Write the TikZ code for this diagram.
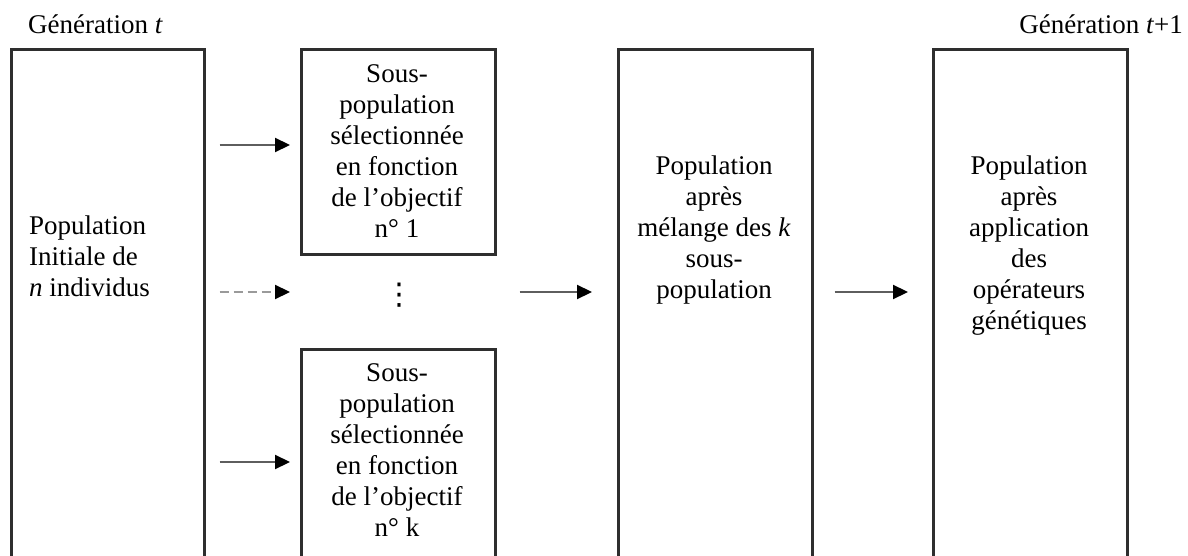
\documentclass[tikz,border=0pt]{standalone}
\usepackage{fontspec}
\setmainfont{Liberation Serif}
\newfontfamily\symbolfont{DejaVu Sans}
\usetikzlibrary{arrows.meta}
\definecolor{boxgray}{HTML}{2E2E2E}
\definecolor{shaftgray}{HTML}{5E5E5E}
\definecolor{dashgray}{HTML}{9A9A9A}
\begin{document}
\begin{tikzpicture}[x=1pt,y=-1pt,
  box/.style={draw=boxgray, line width=2.6pt, minimum width=194pt, inner sep=0pt, anchor=north west},
  lbl/.style={align=center, inner sep=0pt, font=\fontsize{27}{31}\selectfont},
  head/.style={inner sep=0pt, font=\fontsize{27}{31}\selectfont},
  arr/.style={draw=shaftgray, line width=2.2pt, -{Triangle[length=15pt,width=14pt,color=black]}},
  dasharr/.style={arr, draw=dashgray, dash pattern=on 9pt off 5pt}]
\useasboundingbox (0,0) rectangle (1188,556);
\clip (0,0) rectangle (1188,556);

% generation labels
\node[head, anchor=base west] (gen) at (28,34) {Génération \textit{t}};
\node[head, anchor=base east] (gennext) at (1183,34) {Génération \textit{t}+1};

% boxes (the tall ones run past the lower edge)
\node[box, minimum width=193pt, minimum height=560pt] (init) at (10,48) {};
\node[box, minimum height=205pt] (sub1) at (300,48) {};
\node[box, minimum height=260pt] (subk) at (300,348) {};
\node[box, minimum height=560pt] (mix) at (617,48) {};
\node[box, minimum height=560pt] (next) at (932,48) {};

% box texts
\node[lbl, align=left, anchor=west] (initT) at (29,256) {Population\\Initiale de\\\textit{n} individus};
\node[lbl] (sub1T) at (397,151) {Sous-\\population\\sélectionnée\\en fonction\\de l’objectif\\n° 1};
\node[lbl] (subkT) at (397,450) {Sous-\\population\\sélectionnée\\en fonction\\de l’objectif\\n° k};
\node[lbl] (mixT) at (714,230) {Population\\après\\mélange des \textit{k}\\sous-\\population};
\node[lbl] (nextT) at (1029,246) {Population\\après\\application\\des\\opérateurs\\génétiques};

% vertical ellipsis between the sub-populations
\node[inner sep=0pt, font=\symbolfont\fontsize{30}{30}\selectfont] (dots) at (399,295) {⋮};

% row levels
\coordinate (r1) at (0,145);
\coordinate (row) at (0,292);
\coordinate (r3) at (0,462);

% connectors
\draw[arr] ([xshift=14pt]init.east |- r1) -- ([xshift=-10pt]sub1.west |- r1);
\draw[dasharr] ([xshift=14pt]init.east |- row) -- ([xshift=-10pt]sub1.west |- row);
\draw[arr] ([xshift=14pt]init.east |- r3) -- ([xshift=-10pt]subk.west |- r3);
\draw[arr] ([xshift=23pt]sub1.east |- row) -- ([xshift=-25pt]mix.west |- row);
\draw[arr] ([xshift=21pt]mix.east |- row) -- ([xshift=-24pt]next.west |- row);
\end{tikzpicture}
\end{document}
